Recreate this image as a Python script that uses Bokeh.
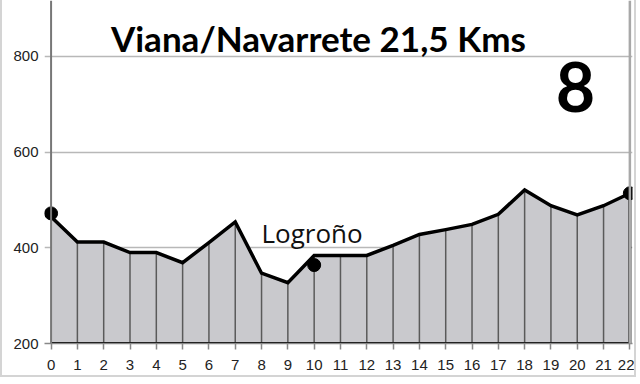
from bokeh.plotting import figure
from bokeh.models import FixedTicker, Range1d, Label, Span
from bokeh.embed import file_html
from bokeh.resources import INLINE

km = list(range(23))
altitude = [465, 412, 412, 390, 390, 369, 411, 454, 347, 327, 384, 384, 384,
            405, 428, 438, 449, 470, 521, 488, 469, 488, 514]
base = 200
marker_km = [0, 10, 22]
marker_alt = [472, 364, 514]
y_ticks = [200, 400, 600, 800]
title_text = "Viana/Navarrete 21,5 Kms"
stage_text = "8"
town_text = "Logroño"

p = figure(width=636, height=377, output_backend="svg", toolbar_location=None,
           x_range=Range1d(-0.25, 22.1), y_range=Range1d(200, 917),
           min_border_left=42, min_border_top=0, min_border_right=6, min_border_bottom=34)
p.styles = {"border-left": "2px solid #d4d4d4", "border-right": "2px solid #d4d4d4",
            "border-bottom": "2px solid #d4d4d4"}
p.outline_line_color = None
p.background_fill_color = "white"
p.xgrid.grid_line_color = None
p.ygrid.grid_line_color = "#b8b8b8"
p.ygrid.grid_line_width = 1.5

p.xaxis.ticker = FixedTicker(ticks=km)
p.yaxis.ticker = FixedTicker(ticks=y_ticks)
for ax in (p.xaxis, p.yaxis):
    ax.major_tick_line_color = "#888888"
    ax.major_tick_line_width = 1.5
    ax.major_tick_out = 6
    ax.major_tick_in = 0
    ax.minor_tick_line_color = None
    ax.major_label_text_font = "Liberation Sans"
    ax.major_label_text_font_size = "15px"
    ax.major_label_text_color = "#222222"
p.xaxis.axis_line_color = "#888888"
p.xaxis.axis_line_width = 1.5
p.yaxis.axis_line_color = None
p.yaxis.major_tick_out = 0
p.yaxis.major_label_standoff = 6
p.xaxis.major_label_standoff = 10

p.varea(x=km, y1=[base] * len(km), y2=altitude, fill_color="#c9c9cd")
p.segment(x0=km[1:-1], y0=[base] * (len(km) - 2), x1=km[1:-1], y1=altitude[1:-1],
          line_color="#5a5a5a", line_width=1.5)
p.add_layout(Span(location=km[0], dimension="height", line_color="#777777", line_width=2))
p.add_layout(Span(location=km[-1], dimension="height", line_color="#a8a8a8", line_width=2.5))
p.line(km, altitude, line_color="black", line_width=3.5, line_join="miter")
p.line(km, [base] * len(km), line_color="black", line_width=3)
p.segment(x0=[km[-1]], y0=[base], x1=[km[-1]], y1=[altitude[-1]], line_color="black", line_width=3)
p.scatter(marker_km, marker_alt, size=13, color="black")

p.add_layout(Label(x=10.16, y=838, text=title_text, text_font="Lato", text_font_style="bold",
                   text_font_size="35px", text_align="center", text_baseline="middle", text_color="black"))
p.add_layout(Label(x=19.93, y=737, text=stage_text, text_font="Lato", text_font_style="bold",
                   text_font_size="68px", text_align="center", text_baseline="middle", text_color="black"))
p.add_layout(Label(x=9.92, y=432, text=town_text, text_font="Open Sans",
                   text_font_size="26px", text_align="center", text_baseline="alphabetic", text_color="#111111"))

open("out.html", "w").write(file_html(p, INLINE))
